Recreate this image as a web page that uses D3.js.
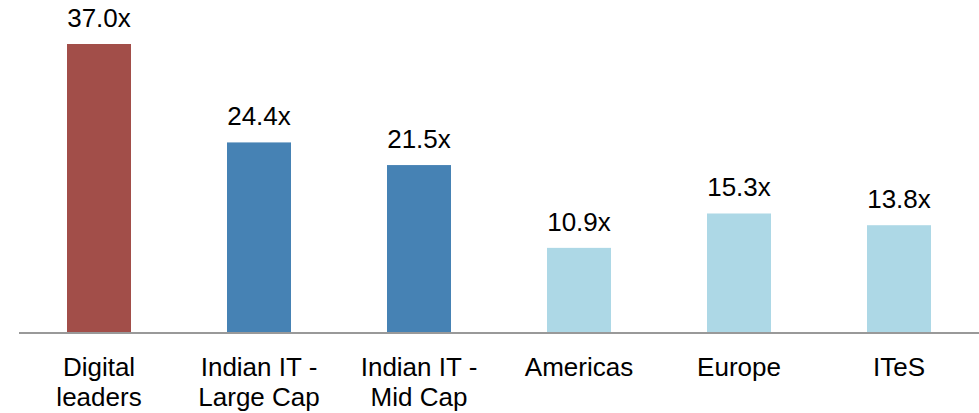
<!DOCTYPE html>
<html>
<head>
<meta charset="utf-8">
<script src="https://cdn.jsdelivr.net/npm/d3@7"></script>
<style>
  html, body { margin: 0; padding: 0; background: #fff; }
  svg { display: block; font-family: Arial, "Liberation Sans", sans-serif; }
</style>
</head>
<body>
<svg id="chart" width="979" height="413"></svg>
<script>
// P/E multiples by peer group
const categories = [
  ["Digital", "leaders"],
  ["Indian IT -", "Large Cap"],
  ["Indian IT -", "Mid Cap"],
  ["Americas"],
  ["Europe"],
  ["ITeS"]
];
const values = [37.0, 24.4, 21.5, 10.9, 15.3, 13.8];
const groups = ["digital", "indian", "indian", "global", "global", "global"];

const groupColor = d3.scaleOrdinal()
  .domain(["digital", "indian", "global"])
  .range(["#A24E49", "#4682B4", "#ADD8E6"]);

const svg = d3.select("#chart");
const plotLeft = 19, plotRight = 979, baseY = 333, topY = 44;

const x = d3.scaleBand()
  .domain(d3.range(values.length))
  .range([plotLeft, plotRight])
  .paddingInner(0.6)
  .paddingOuter(0.3);

const y = d3.scaleLinear()
  .domain([0, 37])
  .range([baseY, topY]);

// bars
svg.append("g")
  .selectAll("rect")
  .data(values)
  .join("rect")
  .attr("x", (d, i) => x(i))
  .attr("y", d => y(d))
  .attr("width", x.bandwidth())
  .attr("height", d => baseY - y(d))
  .attr("fill", (d, i) => groupColor(groups[i]));

// value labels
svg.append("g")
  .selectAll("text")
  .data(values)
  .join("text")
  .attr("x", (d, i) => x(i) + x.bandwidth() / 2)
  .attr("y", d => y(d) - 17)
  .attr("text-anchor", "middle")
  .attr("font-size", 26)
  .attr("fill", "#000")
  .text(d => d.toFixed(1) + "x");

// category axis
const axis = svg.append("g")
  .attr("transform", `translate(0,${baseY})`)
  .call(d3.axisBottom(x).tickSize(0).tickFormat(""));
axis.select(".domain")
  .attr("d", `M${plotLeft},0H${plotRight}`)
  .attr("stroke", "#999")
  .attr("stroke-width", 2);

// category labels (multi-line)
const labels = svg.append("g")
  .selectAll("text")
  .data(categories)
  .join("text")
  .attr("text-anchor", "middle")
  .attr("font-size", 26)
  .attr("fill", "#000")
  .attr("transform", (d, i) => `translate(${x(i) + x.bandwidth() / 2},376)`);
labels.selectAll("tspan")
  .data(d => d)
  .join("tspan")
  .attr("x", 0)
  .attr("y", (d, j) => j * 30)
  .text(d => d);
</script>
</body>
</html>
